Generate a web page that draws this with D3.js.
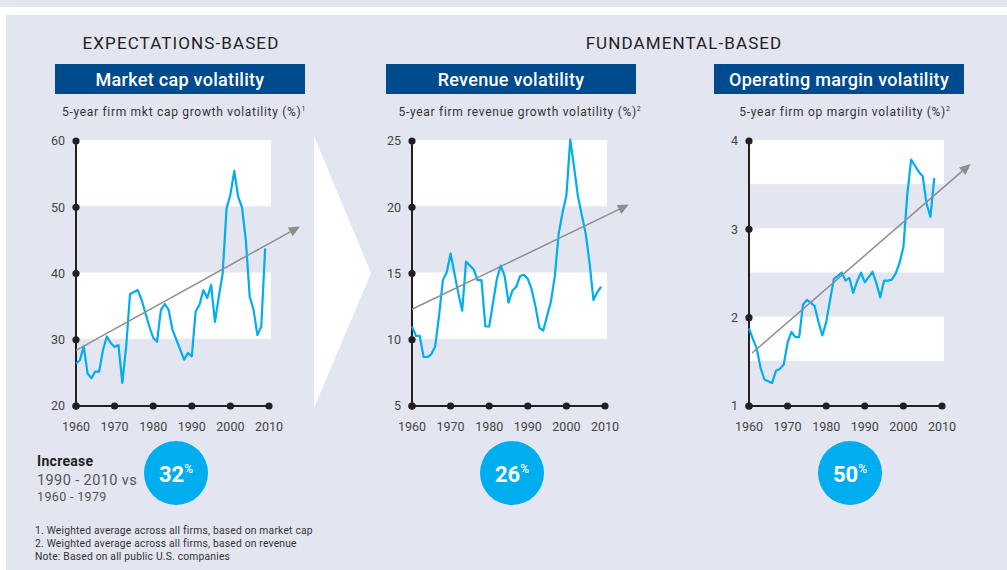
<!DOCTYPE html>
<html>
<head>
<meta charset="utf-8">
<script src="https://cdn.jsdelivr.net/npm/d3@7"></script>
<style>
  body { margin: 0; background: #fff; }
  svg { display: block; font-family: Roboto, "DejaVu Sans", sans-serif; }
</style>
</head>
<body>
<svg id="chart" width="1007" height="570"></svg>
<script>
"use strict";

// years 1960 - 2009, one point per year
const years = d3.range(1960, 2010);

const mktCapVol = [
  26.4, 26.9, 29.0, 24.9, 24.2, 25.2, 25.2, 28.5, 30.5, 29.5,
  28.9, 29.2, 23.5, 29.0, 36.9, 37.2, 37.5, 36.0, 34.0, 32.0,
  30.3, 29.7, 34.5, 35.4, 34.5, 31.5, 30.0, 28.5, 27.0, 28.0,
  27.5, 34.3, 35.3, 37.5, 36.3, 38.3, 32.7, 36.5, 40.0, 49.8,
  51.9, 55.5, 51.6, 50.0, 45.0, 36.5, 34.5, 30.7, 32.0, 43.8
];

const revenueVol = [
  11.0, 10.3, 10.3, 8.7, 8.7, 8.9, 9.5, 11.8, 14.5, 15.1,
  16.5, 15.0, 13.5, 12.2, 15.9, 15.6, 15.3, 14.5, 14.5, 11.0,
  11.0, 12.8, 14.6, 15.6, 14.8, 12.8, 13.7, 14.0, 14.8, 14.9,
  14.6, 13.8, 12.5, 10.9, 10.7, 11.8, 12.9, 14.8, 18.0, 19.6,
  20.9, 25.1, 23.0, 20.8, 19.4, 18.0, 15.8, 13.0, 13.6, 14.0
];

const opMarginVol = [
  1.88, 1.76, 1.65, 1.43, 1.30, 1.28, 1.26, 1.40, 1.42, 1.47,
  1.72, 1.84, 1.78, 1.78, 2.15, 2.20, 2.17, 2.13, 1.95, 1.80,
  1.95, 2.20, 2.44, 2.47, 2.51, 2.42, 2.45, 2.28, 2.41, 2.51,
  2.40, 2.46, 2.52, 2.39, 2.23, 2.42, 2.42, 2.43, 2.50, 2.62,
  2.80, 3.39, 3.79, 3.72, 3.65, 3.60, 3.29, 3.14, 3.58
];

const xTicks = [1960, 1970, 1980, 1990, 2000, 2010];
const mktCapTicks = [20, 30, 40, 50, 60];
const revenueTicks = [5, 10, 15, 20, 25];
const opMarginTicks = [1, 2, 3, 4];

// white bands behind the lines: [low, high]
const mktCapBands = [[50, 60], [30, 40]];
const revenueBands = [[20, 25], [10, 15]];
const opMarginBands = [[3.5, 4], [2.5, 3], [1.5, 2]];

// trend arrows: [year, value] start and tip
const mktCapTrend = [[1960, 28.4], [2018, 47.1]];
const revenueTrend = [[1960, 12.3], [2016.2, 20.2]];
const opMarginTrend = [[1960.8, 1.6], [2017.4, 3.74]];

const titles = ["Market cap volatility", "Revenue volatility", "Operating margin volatility"];
const subtitles = [
  ["5-year firm mkt cap growth volatility (%)", "1"],
  ["5-year firm revenue growth volatility (%)", "2"],
  ["5-year firm op margin volatility (%)", "2"]
];
const increases = ["32", "26", "50"];
const footnotes = [
  "1. Weighted average across all firms, based on market cap",
  "2. Weighted average across all firms, based on revenue",
  "Note: Based on all public U.S. companies"
];

const BG = "#e3e5f1";
const BLUE = "#004b8d";
const CYAN = "#00aeef";
const INK = "#231f20";

const svg = d3.select("#chart");

// background
svg.append("rect").attr("width", 1007).attr("height", 570).attr("fill", "#fff");
svg.append("rect").attr("x", 0).attr("y", 0).attr("width", 1007).attr("height", 7).attr("fill", BG);
svg.append("rect").attr("x", 6).attr("y", 15).attr("width", 1001).attr("height", 555).attr("fill", BG);

// section headers
svg.append("text").attr("x", 181).attr("y", 49).attr("text-anchor", "middle")
  .style("font-size", "17px").style("letter-spacing", "1.1px").style("fill", INK).text("EXPECTATIONS-BASED");
svg.append("text").attr("x", 684).attr("y", 49).attr("text-anchor", "middle")
  .style("font-size", "17px").style("letter-spacing", "1.1px").style("fill", INK).text("FUNDAMENTAL-BASED");

// big chevron between the two groups
svg.append("path")
  .attr("d", "M314,136 L371,273 L314,408 Z")
  .attr("fill", "#fff");

const panels = [
  { x0: 76, values: mktCapVol, ticks: mktCapTicks, bands: mktCapBands, trend: mktCapTrend, box: 55, subShift: 4 },
  { x0: 412, values: revenueVol, ticks: revenueTicks, bands: revenueBands, trend: revenueTrend, box: 386, subShift: 9 },
  { x0: 749, values: opMarginVol, ticks: opMarginTicks, bands: opMarginBands, trend: opMarginTrend, box: 714, subShift: 6 }
];
const circleX = [176, 512, 850];

panels.forEach(function(p, i) {
  const g = svg.append("g");

  // title box
  g.append("rect").attr("x", p.box).attr("y", 64).attr("width", 250).attr("height", 30).attr("fill", BLUE);
  g.append("text").attr("x", p.box + 125).attr("y", 86).attr("text-anchor", "middle")
    .style("font-size", "18px").style("font-weight", 500).style("letter-spacing", "0.3px")
    .style("fill", "#fff").text(titles[i]);

  // subtitle with footnote mark
  const sub = g.append("text").attr("x", p.box + 125 + p.subShift).attr("y", 116)
    .attr("text-anchor", "middle").style("font-size", "12px").style("letter-spacing", "0.7px")
    .style("fill", "#333");
  sub.append("tspan").text(subtitles[i][0]);
  sub.append("tspan").attr("dy", -5).style("font-size", "7px").text(subtitles[i][1]);

  const x = d3.scaleLinear().domain([1960, 2010]).range([p.x0, p.x0 + 193]);
  const y = d3.scaleLinear().domain(d3.extent(p.ticks)).range([406, 141]);

  // white bands
  g.selectAll("rect.band").data(p.bands).join("rect")
    .attr("class", "band")
    .attr("x", p.x0)
    .attr("y", d => y(d[1]) - 1)
    .attr("width", 195)
    .attr("height", d => y(d[0]) - y(d[1]))
    .attr("fill", "#fff");

  // axes lines
  g.append("line").attr("x1", x(1960)).attr("x2", x(1960)).attr("y1", y.range()[1]).attr("y2", y.range()[0])
    .attr("stroke", INK).attr("stroke-width", 2);
  g.append("line").attr("x1", x(1960)).attr("x2", x(2010)).attr("y1", 406).attr("y2", 406)
    .attr("stroke", INK).attr("stroke-width", 2);

  // tick dots
  g.selectAll("circle.ydot").data(p.ticks).join("circle")
    .attr("class", "ydot").attr("cx", x(1960)).attr("cy", d => y(d)).attr("r", 3.6).attr("fill", INK);
  g.selectAll("circle.xdot").data(xTicks).join("circle")
    .attr("class", "xdot").attr("cx", d => x(d)).attr("cy", 406).attr("r", 3.6).attr("fill", INK);

  // tick labels
  g.selectAll("text.ylab").data(p.ticks).join("text")
    .attr("class", "ylab").attr("x", x(1960) - 11).attr("y", d => y(d)).attr("dy", "0.35em")
    .attr("text-anchor", "end").style("font-size", "12.5px").style("fill", "#444").text(d => d);
  g.selectAll("text.xlab").data(xTicks).join("text")
    .attr("class", "xlab").attr("x", d => x(d)).attr("y", 431)
    .attr("text-anchor", "middle").style("font-size", "12.5px").style("fill", "#444").text(d => d);

  // data line
  const line = d3.line().x((d, j) => x(years[j])).y(d => y(d));
  g.append("path").datum(p.values)
    .attr("d", line)
    .attr("fill", "none").attr("stroke", CYAN).attr("stroke-width", 2.2)
    .attr("stroke-linejoin", "round");

  // trend arrow
  const a = [x(p.trend[0][0]), y(p.trend[0][1])];
  const b = [x(p.trend[1][0]), y(p.trend[1][1])];
  const ang = Math.atan2(b[1] - a[1], b[0] - a[0]);
  const hl = 11, hw = 5;
  const base = [b[0] - hl * Math.cos(ang), b[1] - hl * Math.sin(ang)];
  g.append("line").attr("x1", a[0]).attr("y1", a[1]).attr("x2", base[0]).attr("y2", base[1])
    .attr("stroke", "#8e8e8e").attr("stroke-width", 1.5);
  g.append("path")
    .attr("d", "M" + b + "L" + [base[0] + hw * Math.sin(ang), base[1] - hw * Math.cos(ang)] +
      "L" + [base[0] - hw * Math.sin(ang), base[1] + hw * Math.cos(ang)] + "Z")
    .attr("fill", "#8e8e8e");

  // increase bubble
  g.append("circle").attr("cx", circleX[i]).attr("cy", 473).attr("r", 32).attr("fill", CYAN);
  const t = g.append("text").attr("x", circleX[i]).attr("y", 482).attr("text-anchor", "middle")
    .style("fill", "#fff").style("font-weight", 700);
  t.append("tspan").style("font-size", "22px").text(increases[i]);
  t.append("tspan").attr("dy", -9).style("font-size", "12px").style("font-weight", 500).text("%");
});

// increase legend text
svg.append("text").attr("x", 37).attr("y", 466).style("font-size", "14px").style("font-weight", 700)
  .style("letter-spacing", "0.3px").style("fill", INK).text("Increase");
svg.append("text").attr("x", 37).attr("y", 485).style("font-size", "14.5px").style("letter-spacing", "0.4px")
  .style("fill", "#555").text("1990 - 2010 vs");
svg.append("text").attr("x", 37).attr("y", 501).style("font-size", "12.5px").style("letter-spacing", "0.35px")
  .style("fill", "#555").text("1960 - 1979");

// footnotes
svg.selectAll("text.foot").data(footnotes).join("text")
  .attr("class", "foot").attr("x", 35).attr("y", (d, i) => 534 + i * 13.2)
  .style("font-size", "10.3px").style("fill", "#333").style("letter-spacing", "0.2px").text(d => d);
</script>
</body>
</html>
